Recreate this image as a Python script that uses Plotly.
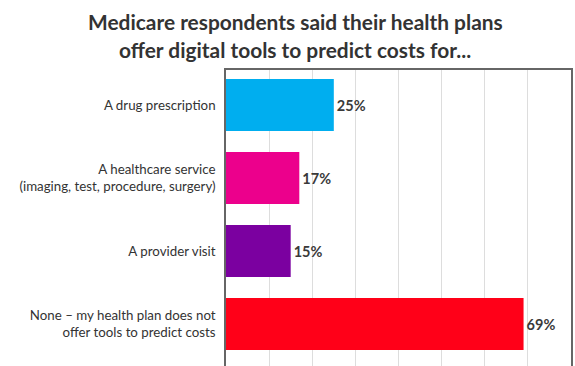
import plotly.graph_objects as go

categories = [
    "A drug prescription",
    "A healthcare service<br>(imaging, test, procedure, surgery)",
    "A provider visit",
    "None – my health plan does not<br>offer tools to predict costs",
]
values = [25, 17, 15, 69]
value_labels = ["25%", "17%", "15%", "69%"]
colors = ["#00AEEF", "#EC008C", "#7B00A0", "#FF0018"]
positions = [0, 1, 2, 3]
title_lines = [
    "Medicare respondents said their health plans",
    "offer digital tools to predict costs for...",
]

fig = go.Figure(go.Bar(
    x=values, y=positions, orientation="h",
    marker=dict(color=colors, line=dict(width=0)),
    width=0.71,
    text=value_labels, textposition="outside",
    textfont=dict(family="Lato", size=14.5, color="#3a3a3a", weight="bold"),
    cliponaxis=False,
))

for i, line in enumerate(title_lines):
    fig.add_annotation(
        text="<b>" + line + "</b>", xref="paper", yref="paper",
        x=0.20, xanchor="center", y=1.165 - i * 0.097, yanchor="middle",
        showarrow=False, font=dict(family="Lato", size=20.9, color="#333333"),
    )

fig.update_layout(
    width=575, height=366,
    margin=dict(l=226, r=4, t=70, b=0),
    paper_bgcolor="white", plot_bgcolor="white",
    showlegend=False,
)
fig.update_xaxes(
    range=[0, 80], dtick=10, showticklabels=False, ticks="",
    showgrid=True, gridcolor="#DDDDDD", gridwidth=1,
    showline=True, linecolor="#666666", linewidth=1.5, mirror=True,
    zeroline=False,
)
fig.update_yaxes(
    tickvals=positions, ticktext=categories, range=[3.575, -0.48],
    tickfont=dict(family="Lato", size=13.3, color="#333333"),
    showgrid=False, showline=True, linecolor="#666666", linewidth=1.5, mirror=True,
    ticks="", ticklen=0, zeroline=False, ticklabelstandoff=6,
)

fig.write_html("out.html")
